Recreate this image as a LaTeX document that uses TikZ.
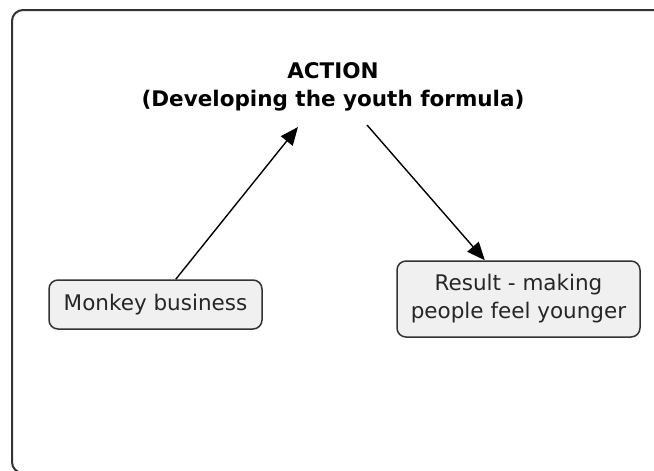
\documentclass[tikz,border=0pt]{standalone}
\usepackage{fontspec}
\setmainfont{DejaVu Sans}
\usetikzlibrary{arrows.meta}
\definecolor{boxfill}{HTML}{F0F0F0}
\definecolor{boxline}{HTML}{333333}
\tikzset{
  conceptbox/.style={draw=boxline, fill=boxfill, line width=1.5pt, rounded corners=9pt,
    inner sep=0pt, align=center, text=black!85, font=\fontsize{21.5}{28}\selectfont},
  link/.style={line width=1.4pt, -{Triangle[length=18pt,width=15pt]}},
  frame/.style={draw=black!80, line width=2pt, rounded corners=11pt}
}
\begin{document}
\begin{tikzpicture}[x=1pt,y=-1pt]
\useasboundingbox (0,0) rectangle (654,471);
\begin{scope}
\clip (0,0) rectangle (654,471);
\draw[frame] (12,10) rectangle (680,473);
\end{scope}
\node[align=center, font=\bfseries\fontsize{21.5}{28.5}\selectfont] (title) at (333,87) {ACTION\\(Developing the youth formula)};
\node[conceptbox, minimum width=213pt, minimum height=49pt] (monkey) at (155.5,304.5) {Monkey business};
\node[conceptbox, minimum width=243pt, minimum height=76pt] (result) at (518.5,299) {Result - making\\people feel younger};
\coordinate (in1) at (298,127);
\coordinate (out1) at (367,125);
\draw[link] (monkey) -- (in1);
\draw[link] (out1) -- (result);
\end{tikzpicture}
\end{document}
